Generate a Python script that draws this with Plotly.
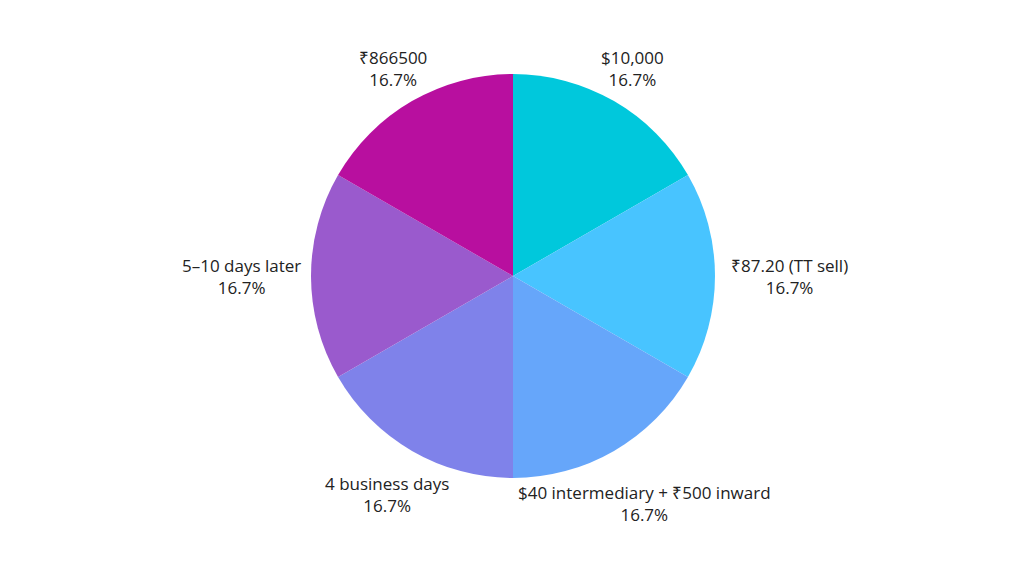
import math
import plotly.graph_objects as go

labels = ["$10,000", "₹87.20 (TT sell)", "$40 intermediary + ₹500 inward",
          "4 business days", "5–10 days later", "₹866500"]
values = [1, 1, 1, 1, 1, 1]
colors = ["#00C8DC", "#48C4FF", "#66A6FA", "#7F82EA", "#9A5ACD", "#B80F9F"]

W, H = 1024, 576
OFF = 8                              # page body margin offset
CX, CY, R = 513 - OFF, 276 - OFF, 202  # pie geometry in pixels (layout)
GAP = 6
FONT_SIZE = 17
CHAR_W = 8.5
BOX_H = 40

fig = go.Figure(go.Pie(
    labels=labels,
    values=values,
    sort=False,
    direction="clockwise",
    rotation=0,
    marker=dict(colors=colors, line=dict(width=0)),
    textinfo="none",
    hoverinfo="label+percent",
    showlegend=False,
    domain=dict(x=[(CX - R) / W, (CX + R) / W],
                y=[1 - (CY + R) / H, 1 - (CY - R) / H]),
))

total = sum(values)


def nearest_dist(px, py, hw, hh):
    nx = min(max(0.0, px - hw), px + hw)
    ny = min(max(0.0, py - hh), py + hh)
    return math.hypot(nx, ny)


annotations = []
cum = 0.0
for lab, v in zip(labels, values):
    mid = (cum + v / 2) / total * 2 * math.pi
    cum += v
    ux, uy = math.sin(mid), -math.cos(mid)
    pct = v / total * 100
    txt = f"{lab}<br>{pct:.1f}%"
    hw = max(len(lab), 5) * CHAR_W / 2
    hh = BOX_H / 2
    lo, hi = 0.0, 600.0
    for _ in range(60):
        t = (lo + hi) / 2
        if nearest_dist(t * ux, t * uy, hw, hh) < R + GAP:
            lo = t
        else:
            hi = t
    px, py = CX + hi * ux, CY + hi * uy
    annotations.append(dict(
        x=px / W, y=1 - py / H, xref="paper", yref="paper",
        text=txt, showarrow=False, xanchor="center", yanchor="middle",
        align="center",
        font=dict(family="Open Sans, sans-serif", size=FONT_SIZE, color="#222222"),
    ))

fig.update_layout(
    width=W, height=H,
    paper_bgcolor="white",
    plot_bgcolor="white",
    margin=dict(l=0, r=0, t=0, b=0),
    annotations=annotations,
)

fig.write_html("out.html")
